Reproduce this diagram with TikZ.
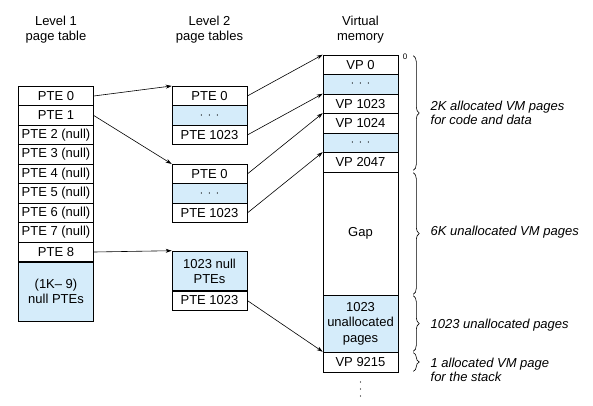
\documentclass[tikz,border=0pt]{standalone}
\usepackage{fontspec}
\setmainfont{Liberation Sans}
\usetikzlibrary{arrows.meta,decorations.pathreplacing}
\definecolor{cellblue}{RGB}{213,236,250}

\begin{document}
\begin{tikzpicture}
  [x=1pt,y=-1pt,line width=0.6pt,>={Stealth[length=6pt,width=4pt]},
   every node/.style={font=\fontsize{13}{15}\selectfont},
   cell/.style={draw,inner sep=0pt,minimum width=75pt,minimum height=19.5pt},
   shaded/.style={cell,fill=cellblue,align=center},
   note/.style={anchor=west,align=left,font=\fontsize{13}{14.5}\selectfont\itshape},
   curly/.style={decorate,decoration={brace,amplitude=6pt}}]
  \useasboundingbox (0,0) rectangle (593,405);

  \node[align=center] (title1) at (56,30) {Level 1\\page table};
  \node[align=center] (title2) at (209.5,30) {Level 2\\page tables};
  \node[align=center] (title3) at (360.5,30) {Virtual\\memory};

  % level 1
  \node[cell] (p0) at (56,96) {PTE 0};
  \node[cell] (p1) at (56,115.5) {PTE 1};
  \foreach \i in {2,...,7}
    \node[cell] (p\i) at (56,{96+19.5*\i}) {PTE \i\ (null)};
  \node[cell] (p8) at (56,252) {PTE 8};
  \node[shaded,minimum height=59pt] (pnull) at (56,291.5) {(1K– 9)\\null PTEs};

  % level 2
  \foreach \t/\y in {a/96,b/174} {
    \node[cell] (\t0) at (209.5,\y) {PTE 0};
    \node[shaded] (\t dots) at (209.5,{\y+19.5}) {$\cdot\,\cdot\,\cdot$};
    \node[cell] (\t1023) at (209.5,{\y+39}) {PTE 1023};
  }
  \node[shaded,minimum height=40pt] (cnull) at (209.5,271) {1023 null\\PTEs};
  \node[cell] (c1023) at (209.5,300.5) {PTE 1023};

  % virtual memory
  \node[cell] (vp0) at (360.5,64.75) {VP 0};
  \node[shaded] (vdots1) at (360.5,84.25) {$\cdot\,\cdot\,\cdot$};
  \node[cell] (vp1023) at (360.5,103.75) {VP 1023};
  \node[cell] (vp1024) at (360.5,123.25) {VP 1024};
  \node[shaded] (vdots2) at (360.5,142.75) {$\cdot\,\cdot\,\cdot$};
  \node[cell] (vp2047) at (360.5,162.25) {VP 2047};
  \node[cell,minimum height=123pt] (gap) at (360.5,233.5) {Gap};
  \node[shaded,minimum height=57pt,font=\fontsize{13}{15.5}\selectfont] (unalloc) at (360.5,323.5) {1023\\unallocated\\pages};
  \node[cell,minimum height=20pt] (vp9215) at (360.5,362) {VP 9215};
  \coordinate (vmore) at (360.5,389);
  \foreach \d in {-7,0,7}
    \fill ([yshift=\d pt]vmore) circle (0.7pt);
  \node[font=\fontsize{8}{9}\selectfont] (zero) at (405,57) {0};

  \foreach \from/\to in {p0/a0,p1/b0,p8/cnull,a0/vp0,a1023/vp1023,b0/vp1024,b1023/vp2047,c1023/vp9215}
    \draw[->] (\from.east) -- (\to.north west);

  % braces
  \draw[curly] ([xshift=15pt,yshift=-1pt]vp0.north east) -- ([xshift=15pt,yshift=2pt]vp2047.south east);
  \draw[curly] ([xshift=15pt,yshift=-1pt]gap.north east) -- ([xshift=15pt,yshift=1pt]gap.south east);
  \draw[curly] ([xshift=15pt,yshift=-1pt]unalloc.north east) -- ([xshift=15pt,yshift=1pt]unalloc.south east);
  \draw[curly] ([xshift=15pt,yshift=-1pt]vp9215.north east) -- ([xshift=15pt,yshift=1pt]vp9215.south east);

  \node[note] (note1) at (427,113) {2K allocated VM pages\\for code and data};
  \node[note] (note2) at (427,232) {6K unallocated VM pages};
  \node[note] (note3) at (427,325) {1023 unallocated pages};
  \node[note] (note4) at (427,370) {1 allocated VM page\\for the stack};
\end{tikzpicture}
\end{document}
